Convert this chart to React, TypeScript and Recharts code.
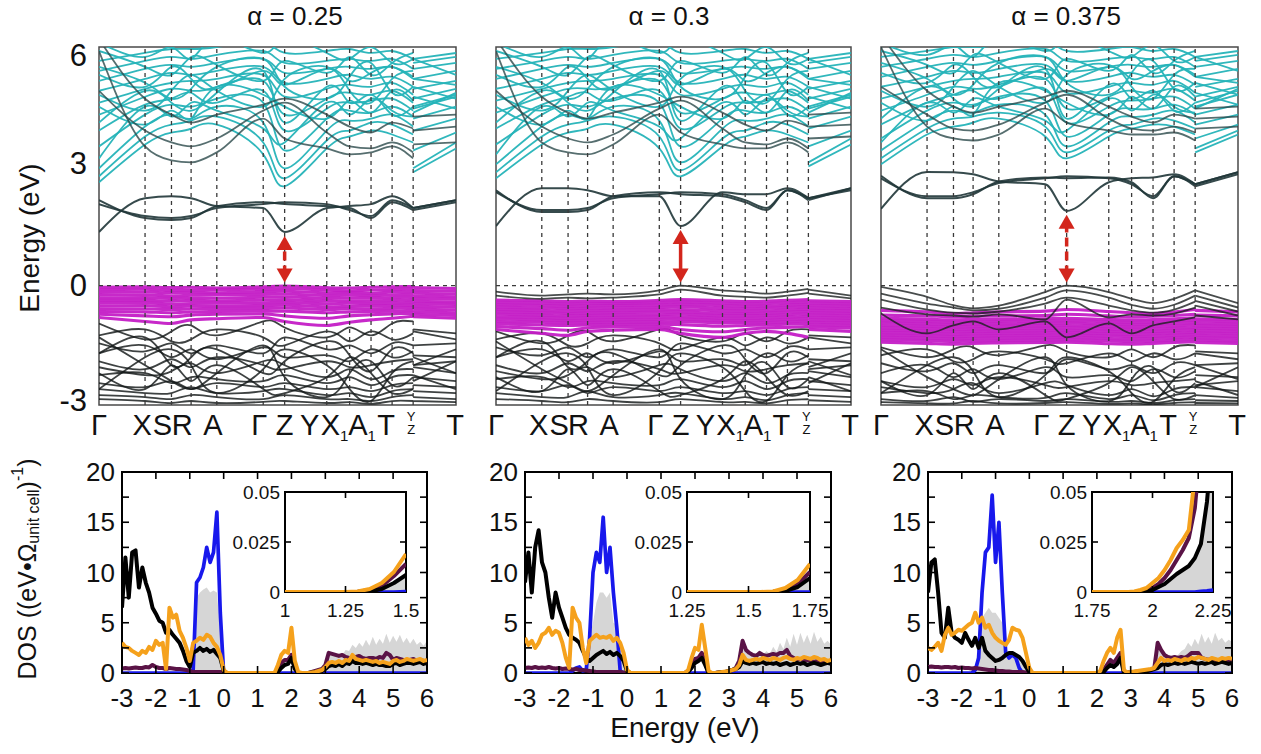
import React from "react";
import {
  LineChart,
  ComposedChart,
  Line,
  Area,
  XAxis,
  YAxis,
  ReferenceLine,
  ReferenceArea,
  ReferenceDot,
} from "recharts";

const PAGE_W = 1261;
const PAGE_H = 754;
const FONT = '"Liberation Sans", Arial, Helvetica, sans-serif';

// ---------------- band structure: k-path ----------------
// Path positions; the Y|Z break repeats its position so the last segment starts fresh.
const kPath = [0, 0.129, 0.203, 0.258, 0.33, 0.46, 0.52, 0.638, 0.702, 0.762, 0.821, 0.88, 0.88, 1];
const BREAK_AFTER = 11;
const Z_INDEX = 6;
const kTicks = [0, 0.129, 0.203, 0.258, 0.33, 0.46, 0.52, 0.638, 0.702, 0.762, 0.821, 0.88, 1];
const kLabels = ["Γ", "X", "S", "R", "A", "Γ", "Z", "Y", "X1", "A1", "T", "Y/Z", "T"];
const kLabelShift = [0, -3, -9, -9, -4, -4, 0, -17, -15, -9, -6, -2, -1];
const energyTicks = [-3, 0, 3, 6];
const energyTickShift: Record<string, number> = { "6": 8, "3": -3, "0": 0, "-3": -5 };

// Energies (eV) at: Γ X S R A Γ Z Y X1 A1 T Y|Z(end) Y|Z(start) T

// ---- α = 0.25 ----
const cyan025 = [
  [2.6, 3.55, 3.85, 3.95, 4.05, 3.3, 2.5, 3.45, 3.75, 3.9, 3.8, 3.6, 2.85, 3.45],
  [2.75, 3.75, 4.05, 4.15, 4.25, 3.6, 2.7, 3.65, 3.9, 4.1, 4.05, 3.8, 2.95, 3.6],
  [2.95, 4.0, 4.3, 4.2, 4.5, 4.1, 2.95, 3.9, 4.15, 4.2, 4.3, 4.0, 3.4, 3.85],
  [3.5, 4.3, 4.55, 4.5, 4.7, 4.6, 3.4, 4.2, 4.4, 4.35, 4.5, 4.25, 3.9, 4.2],
  [3.9, 4.55, 4.7, 4.85, 4.6, 4.9, 3.9, 4.45, 4.6, 4.65, 4.7, 4.4, 4.2, 4.5],
  [4.3, 4.75, 4.95, 4.9, 5.0, 5.15, 4.3, 4.7, 4.85, 4.8, 4.9, 4.6, 4.45, 4.75],
  [4.6, 4.95, 5.1, 5.15, 5.2, 5.3, 4.75, 4.95, 5.05, 5.0, 5.1, 4.8, 4.7, 4.95],
  [4.9, 5.2, 5.35, 5.3, 5.4, 5.5, 5.1, 5.2, 5.3, 5.2, 5.25, 5.0, 4.95, 5.15],
  [5.15, 5.45, 5.55, 5.5, 5.6, 5.7, 5.35, 5.45, 5.5, 5.45, 5.5, 5.2, 5.2, 5.4],
  [5.4, 5.65, 5.75, 5.7, 5.8, 5.9, 5.6, 5.65, 5.7, 5.65, 5.7, 5.45, 5.45, 5.6],
  [5.65, 5.85, 5.95, 5.95, 6.0, 6.1, 5.85, 5.9, 5.95, 5.85, 5.9, 5.7, 5.7, 5.85],
  [4.8, 4.4, 4.9, 5.3, 4.9, 4.5, 5.2, 5.5, 4.9, 4.6, 5.2, 5.4, 5.0, 4.7],
  [5.5, 5.1, 4.7, 4.95, 5.5, 5.7, 5.0, 4.7, 5.25, 5.6, 4.85, 5.0, 5.7, 5.3],
  [3.2, 4.5, 4.25, 4.6, 4.4, 3.95, 3.6, 4.6, 4.3, 4.7, 4.4, 4.25, 4.5, 4.8],
  [4.5, 4.05, 4.4, 4.2, 5.0, 4.8, 4.5, 4.2, 4.65, 4.35, 4.9, 4.65, 4.75, 4.45],
  [5.3, 5.0, 5.5, 5.2, 4.95, 5.4, 5.05, 5.45, 5.15, 5.35, 5.5, 5.25, 5.2, 5.05],
  [5.9, 5.5, 5.3, 5.75, 5.55, 5.15, 5.65, 5.35, 5.75, 5.3, 5.6, 5.85, 5.6, 5.75],
  [6.1, 5.75, 6.0, 5.7, 6.2, 5.85, 6.2, 5.85, 5.7, 6.0, 5.6, 5.7, 6.1, 6.2],
  [4.1, 4.9, 4.6, 4.4, 4.85, 5.4, 4.1, 5.0, 4.6, 4.8, 4.3, 4.5, 4.35, 4.85],
];
const mid025 = [
  [5.9, 3.5, 3.15, 3.1, 3.35, 4.2, 3.7, 3.45, 3.3, 3.35, 3.5, 3.2, 3.55, 3.6],
  [4.9, 3.9, 3.6, 3.5, 3.7, 4.4, 4.6, 3.85, 3.5, 3.45, 3.6, 3.35, 3.9, 4.0],
  [6.2, 4.7, 4.3, 4.1, 4.3, 4.55, 4.7, 4.3, 4.0, 3.85, 4.1, 3.95, 4.25, 4.3],
];
const gap025 = [
  [1.35, 2.2, 2.25, 2.2, 2.0, 1.95, 1.35, 1.95, 2.0, 2.05, 2.25, 1.95, 1.95, 2.15],
  [2.15, 1.7, 1.65, 1.7, 2.0, 2.1, 2.05, 2.0, 1.95, 1.7, 2.1, 1.9, 1.9, 2.1],
  [2.05, 1.75, 1.7, 1.75, 1.95, 2.05, 2.1, 2.05, 1.9, 1.75, 2.15, 1.95, 1.95, 2.15],
];
const magenta025 = [
  [-0.04, -0.03, -0.05, -0.04, -0.06, -0.03, -0.01, -0.05, -0.06, -0.04, -0.03, -0.02, -0.05, -0.07],
  [-0.1, -0.09, -0.12, -0.11, -0.1, -0.09, -0.07, -0.11, -0.13, -0.11, -0.1, -0.08, -0.12, -0.14],
  [-0.17, -0.16, -0.18, -0.17, -0.18, -0.15, -0.14, -0.18, -0.17, -0.19, -0.16, -0.15, -0.19, -0.21],
  [-0.24, -0.23, -0.26, -0.24, -0.23, -0.22, -0.21, -0.25, -0.24, -0.25, -0.23, -0.22, -0.26, -0.28],
  [-0.31, -0.3, -0.32, -0.31, -0.31, -0.29, -0.28, -0.32, -0.31, -0.31, -0.3, -0.29, -0.32, -0.34],
  [-0.37, -0.37, -0.39, -0.37, -0.38, -0.36, -0.35, -0.39, -0.38, -0.38, -0.37, -0.35, -0.39, -0.41],
  [-0.44, -0.43, -0.46, -0.45, -0.44, -0.43, -0.42, -0.46, -0.44, -0.45, -0.44, -0.42, -0.45, -0.47],
  [-0.51, -0.5, -0.53, -0.51, -0.51, -0.5, -0.49, -0.53, -0.52, -0.51, -0.5, -0.49, -0.52, -0.54],
  [-0.58, -0.58, -0.6, -0.58, -0.57, -0.57, -0.56, -0.6, -0.58, -0.58, -0.57, -0.55, -0.59, -0.61],
  [-0.65, -0.66, -0.68, -0.66, -0.65, -0.64, -0.64, -0.68, -0.66, -0.65, -0.64, -0.62, -0.66, -0.68],
  [-0.72, -0.76, -0.78, -0.74, -0.72, -0.71, -0.76, -0.82, -0.76, -0.73, -0.71, -0.69, -0.72, -0.75],
  [-0.8, -0.9, -0.95, -0.86, -0.83, -0.8, -0.9, -1.0, -0.92, -0.86, -0.82, -0.77, -0.78, -0.82],
];
const deep025 = [
  [-0.95, -1.35, -1.15, -1.0, -1.25, -0.9, -1.05, -1.3, -1.05, -1.25, -0.95, -0.9, -1.1, -1.2],
  [-1.25, -1.1, -1.4, -1.35, -1.1, -1.3, -1.5, -1.15, -1.4, -1.15, -1.35, -1.2, -1.15, -1.35],
  [-1.45, -1.65, -1.45, -1.7, -1.5, -1.7, -1.3, -1.6, -1.5, -1.7, -1.45, -1.5, -1.5, -1.45],
  [-1.7, -1.5, -1.8, -1.6, -1.85, -1.55, -1.8, -1.75, -1.9, -1.6, -1.8, -1.65, -1.75, -1.8],
  [-1.9, -2.1, -1.85, -2.05, -1.8, -2.0, -2.1, -1.9, -2.05, -2.0, -1.9, -1.85, -2.0, -1.9],
  [-2.05, -2.25, -2.15, -1.95, -2.2, -1.9, -2.0, -2.3, -2.1, -2.35, -2.15, -2.1, -2.05, -2.2],
  [-2.25, -2.2, -2.45, -2.3, -2.35, -2.4, -2.25, -2.45, -2.3, -2.5, -2.3, -2.25, -2.3, -2.4],
  [-2.45, -2.55, -2.4, -2.6, -2.45, -2.55, -2.45, -2.6, -2.55, -2.65, -2.5, -2.45, -2.5, -2.55],
  [-2.6, -2.7, -2.7, -2.55, -2.7, -2.65, -2.6, -2.75, -2.7, -2.8, -2.65, -2.6, -2.65, -2.7],
  [-2.75, -2.8, -2.85, -2.75, -2.8, -2.85, -2.75, -2.85, -2.85, -2.9, -2.8, -2.75, -2.8, -2.85],
  [-2.85, -2.9, -2.95, -2.9, -2.95, -2.92, -2.9, -2.95, -2.93, -2.97, -2.9, -2.9, -2.9, -2.93],
  [-1.3, -2.0, -2.4, -2.6, -2.2, -1.5, -2.3, -2.8, -2.2, -1.9, -2.5, -2.3, -1.8, -2.2],
  [-2.6, -1.8, -1.6, -2.0, -2.7, -2.1, -1.6, -2.0, -2.6, -2.9, -2.2, -1.9, -2.4, -1.9],
  [-2.2, -2.6, -2.0, -2.4, -2.0, -2.6, -2.7, -2.3, -1.8, -2.2, -2.7, -2.6, -2.25, -2.6],
  [-1.7, -1.3, -2.0, -1.8, -1.6, -2.2, -1.9, -1.4, -1.75, -2.15, -1.6, -1.7, -2.0, -1.6],
];

// ---- α = 0.3 ----
const cyan030 = [
  [2.7, 3.55, 3.85, 3.95, 4.05, 3.45, 2.75, 3.5, 3.75, 3.9, 3.8, 3.6, 3.0, 3.55],
  [2.85, 3.75, 4.05, 4.15, 4.25, 3.75, 2.9, 3.7, 3.9, 4.1, 4.05, 3.8, 3.1, 3.7],
  [3.05, 4.0, 4.3, 4.2, 4.5, 4.15, 3.1, 3.95, 4.15, 4.2, 4.3, 4.0, 3.5, 3.9],
  [3.55, 4.3, 4.55, 4.5, 4.7, 4.6, 3.5, 4.2, 4.4, 4.35, 4.5, 4.25, 3.95, 4.25],
  [3.95, 4.55, 4.75, 4.85, 4.65, 4.9, 3.95, 4.45, 4.6, 4.65, 4.7, 4.4, 4.2, 4.5],
  [4.35, 4.75, 4.95, 4.95, 5.0, 5.15, 4.35, 4.7, 4.85, 4.8, 4.9, 4.6, 4.45, 4.75],
  [4.65, 4.95, 5.1, 5.15, 5.2, 5.3, 4.8, 4.95, 5.05, 5.0, 5.1, 4.8, 4.7, 4.95],
  [4.95, 5.2, 5.35, 5.3, 5.4, 5.5, 5.1, 5.2, 5.3, 5.2, 5.25, 5.0, 4.95, 5.15],
  [5.2, 5.45, 5.55, 5.5, 5.6, 5.7, 5.35, 5.45, 5.5, 5.45, 5.5, 5.2, 5.2, 5.4],
  [5.45, 5.65, 5.75, 5.7, 5.8, 5.9, 5.6, 5.65, 5.7, 5.65, 5.7, 5.45, 5.45, 5.6],
  [5.7, 5.85, 5.95, 5.95, 6.0, 6.1, 5.85, 5.9, 5.95, 5.85, 5.9, 5.7, 5.7, 5.85],
  [4.8, 4.4, 4.9, 5.3, 4.9, 4.5, 5.2, 5.5, 4.9, 4.6, 5.2, 5.4, 5.0, 4.7],
  [5.5, 5.1, 4.7, 4.95, 5.5, 5.7, 5.0, 4.7, 5.25, 5.6, 4.85, 5.0, 5.7, 5.3],
  [3.3, 4.5, 4.25, 4.6, 4.4, 4.0, 3.7, 4.6, 4.3, 4.7, 4.4, 4.25, 4.5, 4.8],
  [4.5, 4.05, 4.4, 4.2, 5.0, 4.8, 4.5, 4.2, 4.65, 4.35, 4.9, 4.65, 4.75, 4.45],
  [5.3, 5.0, 5.5, 5.2, 4.95, 5.4, 5.05, 5.45, 5.15, 5.35, 5.5, 5.25, 5.2, 5.05],
  [5.9, 5.5, 5.3, 5.75, 5.55, 5.15, 5.65, 5.35, 5.75, 5.3, 5.6, 5.85, 5.6, 5.75],
  [6.1, 5.75, 6.0, 5.7, 6.2, 5.85, 6.2, 5.85, 5.7, 6.0, 5.6, 5.7, 6.1, 6.2],
  [4.1, 4.9, 4.6, 4.4, 4.85, 5.4, 4.15, 5.0, 4.6, 4.8, 4.3, 4.5, 4.35, 4.85],
];
const mid030 = [
  [5.9, 3.6, 3.35, 3.3, 3.55, 4.3, 3.85, 3.55, 3.45, 3.45, 3.6, 3.35, 3.7, 3.75],
  [4.9, 4.0, 3.7, 3.6, 3.8, 4.45, 4.65, 3.95, 3.6, 3.55, 3.7, 3.45, 4.0, 4.05],
  [6.2, 4.75, 4.35, 4.2, 4.35, 4.6, 4.75, 4.35, 4.05, 3.9, 4.15, 4.0, 4.3, 4.35],
];
const gap030 = [
  [1.5, 2.45, 2.45, 2.4, 2.25, 2.25, 1.5, 2.35, 2.3, 2.3, 2.45, 2.2, 2.2, 2.45],
  [2.4, 1.85, 1.85, 1.9, 2.25, 2.35, 2.3, 2.25, 2.1, 1.9, 2.4, 2.15, 2.15, 2.45],
  [2.35, 1.9, 1.9, 1.95, 2.2, 2.3, 2.35, 2.3, 2.15, 1.95, 2.4, 2.2, 2.2, 2.4],
];
const upper030 = [
  [-0.15, -0.25, -0.22, -0.2, -0.22, -0.12, 0.0, -0.12, -0.15, -0.2, -0.15, -0.08, -0.1, -0.25],
  [-0.25, -0.33, -0.3, -0.32, -0.3, -0.22, -0.1, -0.25, -0.28, -0.3, -0.25, -0.18, -0.2, -0.32],
];
const magenta030 = [
  [-0.36, -0.38, -0.4, -0.39, -0.4, -0.37, -0.35, -0.38, -0.4, -0.39, -0.37, -0.35, -0.38, -0.4],
  [-0.42, -0.44, -0.46, -0.45, -0.45, -0.43, -0.41, -0.44, -0.46, -0.45, -0.43, -0.41, -0.44, -0.46],
  [-0.48, -0.5, -0.52, -0.51, -0.5, -0.49, -0.47, -0.5, -0.52, -0.51, -0.49, -0.47, -0.5, -0.52],
  [-0.54, -0.56, -0.58, -0.57, -0.56, -0.55, -0.53, -0.57, -0.58, -0.57, -0.55, -0.53, -0.56, -0.58],
  [-0.6, -0.62, -0.64, -0.63, -0.62, -0.61, -0.6, -0.63, -0.64, -0.63, -0.61, -0.59, -0.62, -0.64],
  [-0.66, -0.68, -0.7, -0.69, -0.68, -0.67, -0.66, -0.7, -0.7, -0.69, -0.67, -0.65, -0.68, -0.7],
  [-0.72, -0.74, -0.76, -0.75, -0.74, -0.73, -0.72, -0.76, -0.76, -0.75, -0.73, -0.71, -0.74, -0.76],
  [-0.78, -0.8, -0.82, -0.81, -0.8, -0.79, -0.78, -0.82, -0.82, -0.81, -0.79, -0.77, -0.8, -0.82],
  [-0.84, -0.86, -0.88, -0.87, -0.86, -0.85, -0.84, -0.88, -0.88, -0.87, -0.85, -0.83, -0.86, -0.88],
  [-0.9, -0.92, -0.94, -0.93, -0.92, -0.91, -0.9, -0.94, -0.94, -0.93, -0.91, -0.89, -0.92, -0.94],
  [-0.96, -0.99, -1.0, -0.99, -0.98, -0.97, -0.98, -1.02, -1.0, -0.99, -0.97, -0.95, -0.98, -1.0],
  [-1.03, -1.08, -1.12, -1.06, -1.04, -1.03, -1.1, -1.16, -1.1, -1.06, -1.05, -1.02, -1.04, -1.06],
  [-1.1, -1.2, -1.25, -1.15, -1.12, -1.1, -1.2, -1.3, -1.2, -1.15, -1.2, -1.3, -1.1, -1.15],
];
const deep030 = [
  [-1.15, -1.45, -1.25, -1.15, -1.4, -1.1, -1.25, -1.4, -1.2, -1.4, -1.15, -1.1, -1.25, -1.3],
  [-1.35, -1.2, -1.5, -1.45, -1.25, -1.45, -1.6, -1.3, -1.5, -1.3, -1.45, -1.3, -1.3, -1.45],
  [-1.55, -1.75, -1.55, -1.8, -1.6, -1.8, -1.45, -1.7, -1.6, -1.8, -1.55, -1.6, -1.6, -1.55],
  [-1.8, -1.6, -1.9, -1.7, -1.95, -1.65, -1.9, -1.85, -2.0, -1.7, -1.9, -1.75, -1.85, -1.9],
  [-2.0, -2.2, -1.95, -2.15, -1.9, -2.1, -2.2, -2.0, -2.15, -2.1, -2.0, -1.95, -2.1, -2.0],
  [-2.15, -2.35, -2.25, -2.05, -2.3, -2.0, -2.1, -2.4, -2.2, -2.45, -2.25, -2.2, -2.15, -2.3],
  [-2.35, -2.3, -2.55, -2.4, -2.45, -2.5, -2.35, -2.55, -2.4, -2.6, -2.4, -2.35, -2.4, -2.5],
  [-2.55, -2.65, -2.5, -2.7, -2.55, -2.65, -2.55, -2.7, -2.65, -2.75, -2.6, -2.55, -2.6, -2.65],
  [-2.7, -2.8, -2.8, -2.65, -2.8, -2.75, -2.7, -2.85, -2.8, -2.88, -2.75, -2.7, -2.75, -2.8],
  [-2.85, -2.9, -2.93, -2.85, -2.9, -2.93, -2.85, -2.93, -2.92, -2.96, -2.88, -2.85, -2.88, -2.92],
  [-1.4, -2.1, -2.45, -2.65, -2.25, -1.6, -2.35, -2.85, -2.25, -1.95, -2.55, -2.35, -1.9, -2.25],
  [-2.65, -1.9, -1.7, -2.05, -2.75, -2.15, -1.7, -2.05, -2.65, -2.9, -2.25, -1.95, -2.45, -1.95],
  [-2.3, -2.65, -2.1, -2.5, -2.1, -2.65, -2.75, -2.35, -1.9, -2.3, -2.75, -2.65, -2.3, -2.65],
  [-1.8, -1.4, -2.05, -1.9, -1.7, -2.25, -2.0, -1.5, -1.85, -2.2, -1.7, -1.8, -2.05, -1.7],
];

// ---- α = 0.375 ----
const cyan0375 = [
  [3.05, 3.8, 4.0, 4.1, 4.2, 3.75, 3.2, 3.75, 3.95, 4.05, 4.0, 3.8, 3.35, 3.8],
  [3.2, 3.95, 4.2, 4.25, 4.35, 4.0, 3.35, 3.9, 4.05, 4.2, 4.15, 3.95, 3.45, 3.9],
  [3.4, 4.15, 4.4, 4.35, 4.55, 4.3, 3.5, 4.1, 4.25, 4.3, 4.4, 4.1, 3.7, 4.05],
  [3.7, 4.4, 4.6, 4.55, 4.75, 4.65, 3.75, 4.3, 4.45, 4.45, 4.55, 4.3, 4.05, 4.3],
  [4.05, 4.6, 4.8, 4.9, 4.7, 4.95, 4.1, 4.5, 4.65, 4.7, 4.75, 4.45, 4.3, 4.55],
  [4.4, 4.8, 5.0, 4.95, 5.05, 5.2, 4.45, 4.75, 4.9, 4.85, 4.95, 4.65, 4.5, 4.8],
  [4.7, 5.0, 5.15, 5.2, 5.25, 5.35, 4.85, 5.0, 5.1, 5.05, 5.15, 4.85, 4.75, 5.0],
  [5.0, 5.25, 5.4, 5.35, 5.45, 5.55, 5.15, 5.25, 5.35, 5.25, 5.3, 5.05, 5.0, 5.2],
  [5.25, 5.5, 5.6, 5.55, 5.65, 5.75, 5.4, 5.5, 5.55, 5.5, 5.55, 5.25, 5.25, 5.45],
  [5.5, 5.7, 5.8, 5.75, 5.85, 5.95, 5.65, 5.7, 5.75, 5.7, 5.75, 5.5, 5.5, 5.65],
  [5.75, 5.9, 6.0, 6.0, 6.05, 6.15, 5.9, 5.95, 6.0, 5.9, 5.95, 5.75, 5.75, 5.9],
  [4.9, 4.5, 5.0, 5.4, 5.0, 4.6, 5.3, 5.55, 5.0, 4.7, 5.3, 5.45, 5.1, 4.8],
  [5.6, 5.2, 4.8, 5.05, 5.6, 5.75, 5.1, 4.8, 5.35, 5.65, 4.95, 5.1, 5.75, 5.4],
  [3.6, 4.6, 4.35, 4.7, 4.5, 4.15, 3.9, 4.7, 4.4, 4.8, 4.5, 4.35, 4.6, 4.9],
  [4.6, 4.15, 4.5, 4.3, 5.1, 4.9, 4.6, 4.3, 4.75, 4.45, 5.0, 4.75, 4.85, 4.55],
  [5.35, 5.1, 5.55, 5.25, 5.0, 5.45, 5.15, 5.5, 5.2, 5.4, 5.55, 5.3, 5.25, 5.1],
  [5.9, 5.55, 5.35, 5.8, 5.6, 5.2, 5.7, 5.4, 5.8, 5.35, 5.65, 5.9, 5.65, 5.8],
  [6.1, 5.8, 6.05, 5.75, 6.2, 5.9, 6.2, 5.9, 5.75, 6.05, 5.65, 5.75, 6.1, 6.2],
  [4.2, 5.0, 4.7, 4.5, 4.95, 5.45, 4.2, 5.05, 4.7, 4.9, 4.4, 4.6, 4.45, 4.95],
];
const mid0375 = [
  [6.0, 4.0, 3.7, 3.65, 3.8, 4.45, 4.1, 3.9, 3.8, 3.8, 3.85, 3.65, 3.95, 4.0],
  [5.0, 4.3, 3.95, 3.9, 4.05, 4.6, 4.8, 4.2, 3.95, 3.9, 4.0, 3.85, 4.2, 4.25],
  [6.3, 4.9, 4.5, 4.35, 4.5, 4.75, 4.9, 4.5, 4.25, 4.1, 4.3, 4.2, 4.45, 4.5],
];
const gap0375 = [
  [1.93, 2.86, 2.85, 2.8, 2.62, 2.55, 1.88, 2.6, 2.7, 2.72, 2.8, 2.55, 2.55, 2.85],
  [2.76, 2.2, 2.2, 2.3, 2.62, 2.72, 2.7, 2.72, 2.6, 2.2, 2.75, 2.5, 2.5, 2.8],
  [2.7, 2.25, 2.25, 2.35, 2.58, 2.7, 2.75, 2.7, 2.55, 2.25, 2.75, 2.55, 2.55, 2.85],
];
const upper0375 = [
  [-0.03, -0.28, -0.49, -0.57, -0.5, -0.16, 0.0, -0.16, -0.33, -0.44, -0.33, -0.12, -0.12, -0.44],
  [-0.2, -0.45, -0.55, -0.62, -0.58, -0.3, -0.12, -0.3, -0.48, -0.58, -0.48, -0.25, -0.25, -0.55],
  [-0.35, -0.6, -0.68, -0.7, -0.65, -0.45, -0.3, -0.5, -0.62, -0.68, -0.6, -0.4, -0.38, -0.65],
  [-0.55, -0.72, -0.75, -0.78, -0.72, -0.85, -0.35, -0.8, -0.72, -0.75, -0.7, -0.55, -0.5, -0.75],
  [-0.7, -1.2, -1.0, -0.9, -1.1, -0.9, -1.3, -0.95, -1.2, -1.0, -0.9, -0.8, -0.75, -0.85],
];
const magenta0375 = [
  [-0.62, -0.66, -0.7, -0.68, -0.66, -0.64, -0.6, -0.65, -0.68, -0.7, -0.66, -0.6, -0.62, -0.66],
  [-0.74, -0.76, -0.78, -0.77, -0.76, -0.75, -0.72, -0.76, -0.78, -0.77, -0.75, -0.72, -0.74, -0.76],
  [-0.82, -0.84, -0.86, -0.85, -0.84, -0.83, -0.82, -0.85, -0.86, -0.85, -0.83, -0.81, -0.83, -0.85],
  [-0.88, -0.9, -0.92, -0.91, -0.9, -0.89, -0.88, -0.91, -0.92, -0.91, -0.89, -0.87, -0.89, -0.91],
  [-0.94, -0.96, -0.98, -0.97, -0.96, -0.95, -0.94, -0.97, -0.98, -0.97, -0.95, -0.93, -0.95, -0.97],
  [-1.0, -1.02, -1.04, -1.03, -1.02, -1.01, -1.0, -1.03, -1.04, -1.03, -1.01, -0.99, -1.01, -1.03],
  [-1.06, -1.08, -1.1, -1.09, -1.08, -1.07, -1.06, -1.09, -1.1, -1.09, -1.07, -1.05, -1.07, -1.09],
  [-1.12, -1.14, -1.16, -1.15, -1.14, -1.13, -1.12, -1.15, -1.16, -1.15, -1.13, -1.11, -1.13, -1.15],
  [-1.18, -1.2, -1.22, -1.21, -1.2, -1.19, -1.18, -1.21, -1.22, -1.21, -1.19, -1.17, -1.19, -1.21],
  [-1.24, -1.26, -1.28, -1.27, -1.26, -1.25, -1.24, -1.27, -1.28, -1.27, -1.25, -1.23, -1.25, -1.27],
  [-1.3, -1.32, -1.34, -1.33, -1.32, -1.31, -1.3, -1.33, -1.34, -1.33, -1.31, -1.29, -1.31, -1.33],
  [-1.36, -1.38, -1.4, -1.39, -1.38, -1.37, -1.36, -1.39, -1.4, -1.39, -1.37, -1.35, -1.37, -1.39],
  [-1.42, -1.45, -1.47, -1.45, -1.44, -1.43, -1.42, -1.46, -1.47, -1.45, -1.43, -1.41, -1.43, -1.45],
];
const deep0375 = [
  [-1.55, -1.8, -1.6, -1.55, -1.75, -1.5, -1.65, -1.8, -1.6, -1.8, -1.55, -1.5, -1.65, -1.7],
  [-1.75, -1.6, -1.9, -1.85, -1.65, -1.85, -1.95, -1.7, -1.9, -1.7, -1.85, -1.7, -1.7, -1.85],
  [-1.95, -2.15, -1.95, -2.2, -2.0, -2.2, -1.85, -2.1, -2.0, -2.2, -1.95, -2.0, -2.0, -1.95],
  [-2.2, -2.0, -2.3, -2.1, -2.35, -2.05, -2.3, -2.25, -2.4, -2.1, -2.3, -2.15, -2.25, -2.3],
  [-2.4, -2.55, -2.35, -2.5, -2.3, -2.5, -2.55, -2.4, -2.5, -2.45, -2.4, -2.35, -2.5, -2.4],
  [-2.55, -2.7, -2.6, -2.45, -2.7, -2.45, -2.5, -2.75, -2.6, -2.78, -2.6, -2.55, -2.55, -2.65],
  [-2.7, -2.65, -2.85, -2.75, -2.8, -2.82, -2.7, -2.85, -2.75, -2.88, -2.75, -2.7, -2.75, -2.82],
  [-2.85, -2.9, -2.8, -2.92, -2.85, -2.9, -2.85, -2.92, -2.9, -2.95, -2.88, -2.85, -2.88, -2.9],
  [-2.93, -2.96, -2.96, -2.9, -2.96, -2.95, -2.93, -2.97, -2.96, -2.98, -2.95, -2.93, -2.95, -2.96],
  [-1.6, -2.3, -2.6, -2.75, -2.35, -1.8, -2.5, -2.9, -2.35, -2.05, -2.65, -2.45, -2.0, -2.35],
  [-2.7, -2.0, -1.8, -2.15, -2.8, -2.25, -1.8, -2.15, -2.7, -2.92, -2.35, -2.05, -2.55, -2.05],
  [-2.4, -2.75, -2.2, -2.6, -2.2, -2.75, -2.85, -2.45, -2.05, -2.4, -2.85, -2.75, -2.4, -2.75],
];

// ---------------- density of states ----------------
const dosEnergy = [
  -3, -2.9, -2.8, -2.7, -2.6, -2.5, -2.4, -2.3, -2.2, -2.1, -2, -1.9, -1.8, -1.7, -1.6, -1.5, -1.4, -1.3, -1.2, -1.1, -1, -0.9, -0.8, -0.7, -0.6, -0.5, -0.4, -0.3, -0.2, -0.1, 0, 0.1,
  0.4, 0.8, 1.2, 1.5,
  1.6, 1.7, 1.8, 1.9, 2, 2.1, 2.2, 2.3, 2.4, 2.5, 2.6, 2.7, 2.8,
  2.9, 3, 3.1, 3.2, 3.3, 3.4, 3.5, 3.6, 3.7, 3.8, 3.9, 4, 4.1, 4.2, 4.3, 4.4, 4.5, 4.6, 4.7, 4.8, 4.9, 5, 5.1, 5.2, 5.3, 5.4, 5.5, 5.6, 5.7, 5.8, 5.9, 6,
];
const dosTicksX = [-3, -2, -1, 0, 1, 2, 3, 4, 5, 6];
const dosTicksY = [0, 2.5, 5, 7.5, 10, 12.5, 15, 17.5, 20];

// α = 0.25
const dosBlack025 = [
  6.5, 11.5, 7.5, 12, 12.2, 8.5, 10.5, 9, 8, 6.5, 5.9, 5.2, 5, 4, 4.3, 3.8, 3.4, 3, 2.2, 1.2, 0.6, 2, 2.2, 2.5, 2.2, 2.4, 2.1, 2.3, 1.9, 1.5, 0.2, 0,
  0, 0, 0, 0,
  0.1, 0.5, 0.8, 0.9, 1.5, 0.4, 0, 0, 0, 0, 0.05, 0.1, 0.15,
  0.2, 0.4, 0.7, 0.8, 0.7, 0.9, 0.7, 1, 0.9, 1.2, 1, 1, 0.9, 1, 0.9, 0.8, 0.9, 0.8, 0.8, 0.7, 0.7, 0.9, 1, 0.8, 0.9, 1, 1, 0.9, 1, 1.1, 0.9, 1,
];
const dosOrange025 = [
  3, 2.6, 2.5, 2.2, 2, 1.8, 2.2, 2, 2.6, 2.3, 3.2, 2.8, 3, 0.4, 6.5, 5.5, 5.8, 4.2, 3.5, 2.5, 1.2, 3, 3.2, 3.5, 3.3, 3.8, 3.6, 3, 2.6, 1.8, 0.3, 0,
  0, 0, 0, 0,
  0.8, 1.8, 2.2, 2, 4.5, 1.2, 0.1, 0, 0, 0, 0.05, 0.1, 0.2,
  0.3, 0.6, 1, 1.1, 1, 1.2, 1, 1.3, 1.2, 1.8, 1.4, 1.3, 1.2, 1.3, 1.2, 1.1, 1.2, 1, 1.1, 1, 0.9, 1.2, 1.3, 1.1, 1.2, 1.4, 1.3, 1.2, 1.3, 1.4, 1.2, 1.3,
];
const dosMaroon025 = [
  0.45, 0.5, 0.45, 0.5, 0.55, 0.5, 0.5, 0.6, 0.55, 0.8, 0.6, 0.5, 0.5, 0.4, 0.5, 0.45, 0.4, 0.4, 0.35, 0.3, 0.2, 0.1, 0.1, 0.1, 0.1, 0.1, 0.1, 0.1, 0.1, 0.1, 0, 0,
  0, 0, 0, 0,
  0.2, 1, 1.3, 1.3, 1.8, 0.5, 0, 0, 0, 0, 0.1, 0.2, 0.3,
  0.4, 0.8, 2, 1.9, 1.8, 1.7, 1.8, 1.6, 1.5, 1.5, 1.6, 1.7, 1.5, 1.4, 1.5, 1.5, 1.4, 1.6, 1.5, 2, 1.8, 1.3, 1.5, 1.4, 1.3, 1.2, 1.3, 1.4, 1.2, 1.3, 1.2, 1.2,
];
const dosBlue025 = [
  0, 0, 0, 0, 0, 0, 0, 0, 0, 0, 0, 0, 0, 0, 0, 0, 0, 0, 0, 0, 0, 0.3, 9, 9.5, 10.5, 12.5, 11, 12, 16, 6, 0, 0,
  0, 0, 0, 0,
  0, 0, 0, 0, 0, 0, 0, 0, 0, 0, 0, 0, 0,
  0, 0, 0, 0, 0, 0, 0, 0, 0, 0, 0, 0, 0, 0, 0, 0, 0, 0, 0, 0, 0, 0, 0, 0, 0, 0, 0, 0, 0, 0, 0, 0,
];
const dosGray025 = [
  0, 0, 0, 0, 0, 0, 0, 0, 0, 0, 0, 0, 0, 0, 0, 0, 0, 0, 0, 0, 0, 1.5, 7.5, 8, 8.3, 8.5, 8, 8.2, 8, 4, 0.3, 0,
  0, 0, 0, 0,
  0, 0, 0, 0, 0, 0, 0, 0, 0, 0, 0.05, 0.1, 0.2,
  0.4, 0.9, 1.8, 1.8, 1.7, 1.9, 1.8, 2.3, 2.2, 2.8, 2.5, 3, 2.6, 3.3, 2.7, 3.6, 2.8, 3.4, 2.9, 3.9, 3, 3.7, 3.1, 3.8, 3, 3.5, 2.9, 3.4, 2.8, 3.1, 2.7, 3.2,
];

// α = 0.3
const dosBlack030 = [
  9, 12, 8, 12.5, 14.2, 11, 10, 7.5, 5.5, 8, 6.5, 5.5, 4.5, 3.8, 3.5, 3.3, 3, 2.2, 1.5, 1.2, 1.5, 1.8, 2, 2.2, 1.9, 2.1, 1.8, 2, 1.7, 1.2, 0.2, 0,
  0, 0, 0, 0,
  0, 0, 0.1, 0.5, 1, 1.2, 1.5, 0.8, 0, 0, 0, 0.05, 0.1,
  0.1, 0.2, 0.3, 0.4, 0.6, 1.2, 1, 0.9, 1, 0.9, 1, 1.1, 0.9, 1, 0.9, 1, 0.8, 0.9, 1, 0.8, 0.9, 1, 0.9, 1, 0.8, 0.9, 1, 0.9, 0.8, 0.9, 1, 0.9,
];
const dosOrange030 = [
  3.5, 2.8, 3.2, 2.5, 3, 3.8, 4, 4.5, 3.8, 4.2, 4, 3, 1.5, 0.5, 6.5, 5.5, 5, 2.5, 1, 3.2, 3.5, 3.8, 3.5, 3.6, 3.5, 3.7, 3.2, 3.5, 3, 2, 0.3, 0,
  0, 0, 0, 0,
  0, 0, 0.3, 1.5, 2.5, 2.3, 4.8, 2.5, 0.2, 0, 0, 0.05, 0.1,
  0.15, 0.2, 0.3, 0.4, 0.8, 1.8, 1.3, 1.2, 1.3, 1.4, 1.3, 1.5, 1.4, 1.3, 1.5, 1.4, 1.3, 1.5, 1.6, 1.4, 1.3, 1.5, 1.4, 1.6, 1.5, 1.4, 1.6, 1.5, 1.3, 1.4, 1.2, 1.3,
];
const dosMaroon030 = [
  0.5, 0.55, 0.5, 0.6, 0.5, 0.55, 0.5, 0.6, 0.5, 0.45, 0.5, 0.4, 0.45, 0.4, 0.35, 0.4, 0.3, 0.3, 0.25, 0.2, 0.15, 0.1, 0.1, 0.1, 0.1, 0.1, 0.1, 0.1, 0.1, 0.05, 0, 0,
  0, 0, 0, 0,
  0, 0, 0.2, 0.8, 1.4, 1.5, 2, 1, 0, 0, 0, 0.05, 0.1,
  0.1, 0.2, 0.3, 0.5, 1.2, 3.2, 2.3, 2, 1.8, 1.7, 2, 1.8, 1.7, 1.8, 1.9, 1.8, 2, 2, 2.3, 1.7, 1.5, 1.3, 1.4, 1.2, 1.3, 1.2, 1.1, 1.2, 1, 1.1, 1, 1,
];
const dosBlue030 = [
  0, 0, 0, 0, 0, 0, 0, 0, 0, 0, 0, 0, 0, 0, 0.2, 0.5, 0.6, 0.2, 0.3, 3.5, 10, 12, 11, 15.5, 10, 12.5, 8, 4.5, 0.2, 0, 0, 0,
  0, 0, 0, 0,
  0, 0, 0, 0, 0, 0, 0, 0, 0, 0, 0, 0, 0,
  0, 0, 0, 0, 0, 0, 0, 0, 0, 0, 0, 0, 0, 0, 0, 0, 0, 0, 0, 0, 0, 0, 0, 0, 0, 0, 0, 0, 0, 0, 0, 0,
];
const dosGray030 = [
  0, 0, 0, 0, 0, 0, 0, 0, 0, 0, 0, 0, 0, 0, 0, 0, 0, 0, 0, 3.5, 5, 7, 8, 8, 7.5, 8, 5, 4.8, 3.2, 2.2, 0.3, 0,
  0, 0, 0, 0,
  0, 0, 0, 0, 0, 0, 0, 0, 0, 0, 0, 0.05, 0.1,
  0.1, 0.2, 0.3, 0.4, 1, 2.8, 2.2, 1.9, 1.7, 1.6, 1.9, 1.8, 2.2, 1.9, 2.6, 2.1, 3, 2.4, 3.5, 2.6, 3.9, 2.8, 4, 3, 3.8, 2.9, 4.1, 3.1, 3.6, 2.9, 3.2, 2.8,
];

// α = 0.375
const dosBlack0375 = [
  8, 11, 11.3, 8, 4, 3.5, 6.5, 4, 3.5, 3.3, 3, 4, 3.3, 2.7, 3.5, 2.5, 3.5, 2.2, 1.8, 1.5, 1.2, 1.3, 1.5, 1.8, 2, 2, 1.8, 1.6, 1.2, 0.6, 0.1, 0,
  0, 0, 0, 0,
  0, 0, 0, 0, 0, 0, 0.1, 0.5, 0.8, 0.6, 0.9, 1.5, 0,
  0, 0.05, 0.1, 0.1, 0.15, 0.2, 0.2, 0.3, 0.4, 0.5, 0.8, 0.9, 0.8, 0.9, 1, 0.9, 1, 0.9, 1, 1.1, 1, 0.9, 1, 0.9, 1, 1.1, 0.9, 1, 1.1, 1, 0.9, 1,
];
const dosOrange0375 = [
  2.5, 2.3, 2.6, 3, 2.2, 3.8, 4.5, 3.8, 4, 4.3, 4.2, 4.5, 4.8, 5, 6, 5, 5.5, 4.5, 4.8, 4, 3.5, 3.2, 3, 2.8, 3.3, 4.5, 4.3, 4.2, 3.5, 2, 0.5, 0,
  0, 0, 0, 0,
  0, 0, 0, 0, 0, 0.2, 1.2, 2, 2.5, 2, 3.5, 4.3, 0.3,
  0.05, 0.1, 0.15, 0.2, 0.25, 0.3, 0.35, 0.4, 0.5, 1, 1.5, 1.2, 1.3, 1.2, 1.4, 1.3, 1.2, 1.4, 1.3, 1.5, 1.4, 1.6, 1.5, 1.4, 1.3, 1.5, 1.4, 1.3, 1.5, 1.4, 1.5, 1.4,
];
const dosMaroon0375 = [
  0.6, 0.65, 0.6, 0.6, 0.55, 0.6, 0.6, 0.55, 0.6, 0.5, 0.55, 0.5, 0.5, 0.45, 0.5, 0.45, 0.4, 0.35, 0.3, 0.3, 0.25, 0.2, 0.2, 0.15, 0.15, 0.1, 0.1, 0.1, 0.1, 0.05, 0, 0,
  0, 0, 0, 0,
  0, 0, 0, 0, 0, 0, 0.3, 0.8, 1.3, 1, 1.5, 2, 0.1,
  0.05, 0.1, 0.1, 0.15, 0.2, 0.2, 0.25, 0.3, 0.5, 3, 2.3, 1.8, 1.6, 1.5, 1.6, 1.5, 1.6, 1.5, 1.7, 2, 2, 2, 1.5, 1.4, 1.3, 1.4, 1.3, 1.2, 1.3, 1.2, 1.3, 1.2,
];
const dosBlue0375 = [
  0, 0, 0, 0, 0, 0, 0, 0, 0, 0, 0, 0, 0, 0, 0.3, 1.5, 8, 12, 12.5, 17.7, 11, 15, 8, 2, 1.5, 1.8, 1.5, 0.5, 0, 0, 0, 0,
  0, 0, 0, 0,
  0, 0, 0, 0, 0, 0, 0, 0, 0, 0, 0, 0, 0,
  0, 0, 0, 0, 0, 0, 0, 0, 0, 0, 0, 0, 0, 0, 0, 0, 0, 0, 0, 0, 0, 0, 0, 0, 0, 0, 0, 0, 0, 0, 0, 0,
];
const dosGray0375 = [
  0, 0, 0, 0, 0, 0, 0, 0, 0, 0, 0, 0, 0, 0, 0, 4, 5.5, 6, 6.5, 6, 6, 5.5, 5, 2, 1.6, 1.8, 1.6, 1.5, 1.1, 0.5, 0.1, 0,
  0, 0, 0, 0,
  0, 0, 0, 0, 0, 0, 0, 0, 0, 0, 0, 0, 0,
  0.05, 0.1, 0.15, 0.2, 0.25, 0.3, 0.35, 0.4, 0.5, 2.6, 2.1, 1.7, 1.6, 1.5, 1.6, 1.8, 2.2, 2.4, 3, 2.6, 3.4, 2.8, 3.9, 3, 3.6, 2.9, 4, 3.2, 3.5, 3, 3.3, 3.1,
];

// band-edge close-ups
const inset025Energy = [1, 1.05, 1.1, 1.15, 1.2, 1.25, 1.3, 1.35, 1.4, 1.45, 1.5];
const inset025Ticks = [1, 1.25, 1.5];
const inset025Orange = [0, 0, 0, 0, 0, 0, 0.0003, 0.0015, 0.0045, 0.01, 0.019];
const inset025Maroon = [0, 0, 0, 0, 0, 0, 0.0001, 0.001, 0.003, 0.008, 0.014];
const inset025Black = [0, 0, 0, 0, 0, 0, 0, 0.0003, 0.0015, 0.0045, 0.0085];
const inset025Gray = [0, 0, 0, 0, 0, 0, 0, 0.0005, 0.002, 0.005, 0.01];
const inset025Blue = [0, 0, 0, 0, 0, 0, 0, 0, 0, 0, 0.0002];

const inset030Energy = [1.25, 1.3, 1.35, 1.4, 1.45, 1.5, 1.55, 1.6, 1.65, 1.7, 1.75];
const inset030Ticks = [1.25, 1.5, 1.75];
const inset030Orange = [0, 0, 0, 0, 0, 0, 0, 0.0003, 0.002, 0.006, 0.014];
const inset030Maroon = [0, 0, 0, 0, 0, 0, 0, 0.0001, 0.001, 0.004, 0.01];
const inset030Black = [0, 0, 0, 0, 0, 0, 0, 0, 0.0005, 0.0025, 0.007];
const inset030Gray = [0, 0, 0, 0, 0, 0, 0, 0, 0.0008, 0.003, 0.008];
const inset030Blue = [0, 0, 0, 0, 0, 0, 0, 0, 0, 0, 0];

const inset0375Energy = [1.75, 1.775, 1.8, 1.825, 1.85, 1.875, 1.9, 1.925, 1.95, 1.975, 2, 2.025, 2.05, 2.075, 2.1, 2.125, 2.15, 2.175, 2.2, 2.225, 2.25];
const inset0375Ticks = [1.75, 2, 2.25];
const inset0375Orange = [0, 0, 0, 0, 0, 0, 0, 0.0003, 0.001, 0.002, 0.0045, 0.007, 0.011, 0.016, 0.022, 0.026, 0.031, 0.058, 0.09, 0.12, 0.15];
const inset0375Maroon = [0, 0, 0, 0, 0, 0, 0, 0, 0.0003, 0.001, 0.002, 0.004, 0.007, 0.011, 0.016, 0.021, 0.027, 0.042, 0.075, 0.1, 0.13];
const inset0375Black = [0, 0, 0, 0, 0, 0, 0, 0, 0, 0.0003, 0.001, 0.0025, 0.004, 0.0065, 0.009, 0.011, 0.013, 0.017, 0.024, 0.045, 0.08];
const inset0375Gray = [0, 0, 0, 0, 0, 0, 0, 0, 0, 0.0004, 0.0012, 0.0028, 0.0045, 0.007, 0.0095, 0.0115, 0.0135, 0.0175, 0.025, 0.046, 0.08];
const inset0375Blue = [0, 0, 0, 0, 0, 0, 0, 0, 0, 0, 0, 0, 0, 0, 0, 0, 0, 0, 0.0003, 0.0006, 0.001];
const insetTicksY = [0, 0.025, 0.05];

// ---------------- styling ----------------
const COLORS = {
  cyan: "#25b3b8",
  mid: "#2c4a4b",
  gap: "#203638",
  magenta: "#c41ec6",
  deep: "#141818",
  upper: "#1a1f1f",
  arrow: "#d3261c",
  gray: "#d6d6d6",
  blue: "#1818ec",
  maroon: "#5a1346",
  black: "#000000",
  orange: "#f5a11c",
};

type Rect = { x0: number; x1: number; y0: number; y1: number };
type Curve = "monotone" | "natural";
type BandGroup = { bands: number[][]; stroke: string; width: number; opacity: number; curve: Curve };

const bandRect025: Rect = { x0: 99, x1: 456, y0: 47, y1: 405 };
const bandRect030: Rect = { x0: 496, x1: 851, y0: 47, y1: 405 };
const bandRect0375: Rect = { x0: 881, x1: 1238, y0: 47, y1: 405 };
const dosRect025: Rect = { x0: 122, x1: 427, y0: 472, y1: 673 };
const dosRect030: Rect = { x0: 525, x1: 831, y0: 472, y1: 673 };
const dosRect0375: Rect = { x0: 928, x1: 1232, y0: 472, y1: 673 };
const insetRect025: Rect = { x0: 285, x1: 406, y0: 492, y1: 592 };
const insetRect030: Rect = { x0: 687, x1: 810, y0: 492, y1: 592 };
const insetRect0375: Rect = { x0: 1092, x1: 1213, y0: 492, y1: 592 };

// axis band sizes: the plot rectangle is kept at `rect`
const marginOf = (r: Rect, yAxisW: number, xAxisH: number) => ({
  left: r.x0 - yAxisW,
  top: r.y0,
  right: PAGE_W - r.x1,
  bottom: PAGE_H - r.y1 - xAxisH,
});

const layerStyle: React.CSSProperties = { position: "absolute", left: 0, top: 0, width: PAGE_W, height: PAGE_H };

function bandRows(bands: number[][]) {
  const rows: Record<string, number>[] = [];
  kPath.forEach((k, i) => {
    const row: Record<string, number> = { k };
    bands.forEach((b, j) => {
      row["b" + j] = b[i];
    });
    rows.push(row);
    if (i === BREAK_AFTER) rows.push({ k });
  });
  return rows;
}

const makeKTick = (rect: Rect) => (props: any) => {
  const { x, payload } = props;
  const i = kTicks.indexOf(payload.value);
  if (i < 0) return <g />;
  const lx = x + kLabelShift[i];
  const label = kLabels[i];
  const common = { fontFamily: FONT, fill: "#111", textAnchor: "middle" as const };
  if (label === "Y/Z") {
    return (
      <g>
        <text x={lx} y={rect.y1 + 16} fontSize={13} {...common}>Y</text>
        <text x={lx} y={rect.y1 + 29} fontSize={13} {...common}>Z</text>
      </g>
    );
  }
  if (label.length === 2) {
    return (
      <text x={lx} y={rect.y1 + 30} fontSize={29} {...common}>
        {label[0]}
        <tspan fontSize={15} dy={6}>{label[1]}</tspan>
      </text>
    );
  }
  return (
    <text x={lx} y={rect.y1 + 30} fontSize={29} {...common}>
      {label}
    </text>
  );
};

const makeEnergyTick = (rect: Rect) => (props: any) => {
  const { y, payload } = props;
  const v = String(payload.value);
  return (
    <text x={rect.x0 - 12} y={y + (energyTickShift[v] || 0)} textAnchor="end" dominantBaseline="central" fontSize={31} fontFamily={FONT} fill="#111">
      {v}
    </text>
  );
};

const ArrowUp = (p: any) => (
  <polygon points={`${p.cx},${p.cy} ${p.cx - 8},${p.cy + 14} ${p.cx + 8},${p.cy + 14}`} fill={COLORS.arrow} />
);
const ArrowDown = (p: any) => (
  <polygon points={`${p.cx},${p.cy} ${p.cx - 8},${p.cy - 14} ${p.cx + 8},${p.cy - 14}`} fill={COLORS.arrow} />
);

function BandPanel({ rect, groups, gap, dash, labelled }: { rect: Rect; groups: BandGroup[]; gap: number[][]; dash: string; labelled: boolean }) {
  const rows = bandRows(groups.flatMap((g) => g.bands));
  const zk = kPath[Z_INDEX];
  const cbm = Math.min(...gap.map((b) => b[Z_INDEX]));
  const tipTop = cbm - 0.1;
  const tipBottom = 0.08;
  let n = 0;
  const lines = groups.flatMap((g) =>
    g.bands.map(() => {
      const key = "b" + n++;
      return (
        <Line
          key={key}
          dataKey={key}
          type={g.curve}
          stroke={g.stroke}
          strokeWidth={g.width}
          strokeOpacity={g.opacity}
          dot={false}
          activeDot={false}
          isAnimationActive={false}
        />
      );
    })
  );
  return (
    <div style={layerStyle}>
      <LineChart width={PAGE_W} height={PAGE_H} data={rows} margin={marginOf(rect, 60, 40)}>
        <XAxis dataKey="k" type="number" domain={[0, 1]} ticks={kTicks} interval={0} height={40} axisLine={false} tickLine={false} tick={makeKTick(rect)} allowDataOverflow />
        <YAxis type="number" domain={[-3, 6]} ticks={energyTicks} interval={0} width={60} axisLine={false} tickLine={false} tick={labelled ? makeEnergyTick(rect) : false} allowDataOverflow />
        {lines}
        {kTicks.slice(1, -1).map((k, i) => (
          <ReferenceLine key={"v" + i} x={k} stroke="#3a3a3a" strokeWidth={1.3} strokeDasharray="4 4" />
        ))}
        <ReferenceLine y={0} stroke="#3a3a3a" strokeWidth={1.3} strokeDasharray="4 4" />
        <ReferenceLine segment={[{ x: zk, y: tipBottom + 0.2 }, { x: zk, y: tipTop - 0.2 }]} stroke={COLORS.arrow} strokeWidth={3.5} strokeDasharray={dash} />
        <ReferenceDot x={zk} y={tipTop} r={0} shape={ArrowUp} />
        <ReferenceDot x={zk} y={tipBottom} r={0} shape={ArrowDown} />
        <ReferenceArea x1={0} x2={1} y1={-3} y2={6} fill="none" stroke="#4a4a4a" strokeWidth={1.5} />
      </LineChart>
    </div>
  );
}

type DosSeries = { energy: number[]; gray: number[]; blue: number[]; maroon: number[]; black: number[]; orange: number[] };

function dosRows(s: DosSeries) {
  return s.energy.map((e, i) => ({ e, gray: s.gray[i], blue: s.blue[i], maroon: s.maroon[i], black: s.black[i], orange: s.orange[i] }));
}

function dosSeries(width: number) {
  return [
    <Area key="gray" dataKey="gray" type="linear" stroke="none" fill={COLORS.gray} fillOpacity={1} dot={false} activeDot={false} isAnimationActive={false} />,
    <Line key="blue" dataKey="blue" type="linear" stroke={COLORS.blue} strokeWidth={width - 0.3} strokeLinejoin="round" dot={false} activeDot={false} isAnimationActive={false} />,
    <Line key="maroon" dataKey="maroon" type="linear" stroke={COLORS.maroon} strokeWidth={width} strokeLinejoin="round" dot={false} activeDot={false} isAnimationActive={false} />,
    <Line key="black" dataKey="black" type="linear" stroke={COLORS.black} strokeWidth={width} strokeLinejoin="round" dot={false} activeDot={false} isAnimationActive={false} />,
    <Line key="orange" dataKey="orange" type="linear" stroke={COLORS.orange} strokeWidth={width} strokeLinejoin="round" dot={false} activeDot={false} isAnimationActive={false} />,
  ];
}

const makeDosXTick = (rect: Rect) => (props: any) => {
  const { x, payload } = props;
  return (
    <g>
      <line x1={x} x2={x} y1={rect.y1} y2={rect.y1 - 7} stroke="#000" strokeWidth={1.6} />
      <line x1={x} x2={x} y1={rect.y0} y2={rect.y0 + 7} stroke="#000" strokeWidth={1.6} />
      <text x={x} y={rect.y1 + 34} textAnchor="middle" fontSize={26} fontFamily={FONT} fill="#111">
        {payload.value}
      </text>
    </g>
  );
};

const makeDosYTick = (rect: Rect) => (props: any) => {
  const { y, payload } = props;
  const v = payload.value as number;
  return (
    <g>
      <line x1={rect.x0} x2={rect.x0 + 7} y1={y} y2={y} stroke="#000" strokeWidth={1.6} />
      <line x1={rect.x1} x2={rect.x1 - 7} y1={y} y2={y} stroke="#000" strokeWidth={1.6} />
      {v % 5 === 0 ? (
        <text x={rect.x0 - 7} y={y} textAnchor="end" dominantBaseline="central" fontSize={26} fontFamily={FONT} fill="#111">
          {v}
        </text>
      ) : null}
    </g>
  );
};

function DosPanel({ rect, series }: { rect: Rect; series: DosSeries }) {
  return (
    <div style={layerStyle}>
      <ComposedChart width={PAGE_W} height={PAGE_H} data={dosRows(series)} margin={marginOf(rect, 40, 40)}>
        <XAxis dataKey="e" type="number" domain={[-3, 6]} ticks={dosTicksX} interval={0} height={40} axisLine={false} tickLine={false} tick={makeDosXTick(rect)} allowDataOverflow />
        <YAxis type="number" domain={[0, 20]} ticks={dosTicksY} interval={0} width={40} axisLine={false} tickLine={false} tick={makeDosYTick(rect)} allowDataOverflow />
        {dosSeries(4)}
        <ReferenceArea x1={-3} x2={6} y1={0} y2={20} fill="none" stroke="#000" strokeWidth={2} />
      </ComposedChart>
    </div>
  );
}

const makeInsetXTick = (rect: Rect, ticks: number[]) => (props: any) => {
  const { x, payload } = props;
  const inner = payload.value === ticks[1];
  return (
    <g>
      {inner ? <line x1={x} x2={x} y1={rect.y1} y2={rect.y1 - 6} stroke="#000" strokeWidth={1.6} /> : null}
      {inner ? <line x1={x} x2={x} y1={rect.y0} y2={rect.y0 + 6} stroke="#000" strokeWidth={1.6} /> : null}
      <text x={x} y={rect.y1 + 25} textAnchor="middle" fontSize={19} fontFamily={FONT} fill="#111">
        {payload.value}
      </text>
    </g>
  );
};

const makeInsetYTick = (rect: Rect) => (props: any) => {
  const { y, payload } = props;
  const inner = payload.value === insetTicksY[1];
  return (
    <g>
      {inner ? <line x1={rect.x0} x2={rect.x0 + 6} y1={y} y2={y} stroke="#000" strokeWidth={1.6} /> : null}
      {inner ? <line x1={rect.x1} x2={rect.x1 - 6} y1={y} y2={y} stroke="#000" strokeWidth={1.6} /> : null}
      <text x={rect.x0 - 5} y={y} textAnchor="end" dominantBaseline="central" fontSize={19} fontFamily={FONT} fill="#111">
        {payload.value}
      </text>
    </g>
  );
};

function InsetPanel({ rect, series, ticks }: { rect: Rect; series: DosSeries; ticks: number[] }) {
  const lo = ticks[0];
  const hi = ticks[ticks.length - 1];
  return (
    <>
      <div style={{ position: "absolute", left: rect.x0, top: rect.y0, width: rect.x1 - rect.x0, height: rect.y1 - rect.y0, background: "#fff" }} />
      <div style={layerStyle}>
        <ComposedChart width={PAGE_W} height={PAGE_H} data={dosRows(series)} margin={marginOf(rect, 50, 30)}>
          <XAxis dataKey="e" type="number" domain={[lo, hi]} ticks={ticks} interval={0} height={30} axisLine={false} tickLine={false} tick={makeInsetXTick(rect, ticks)} allowDataOverflow />
          <YAxis type="number" domain={[0, 0.05]} ticks={insetTicksY} interval={0} width={50} axisLine={false} tickLine={false} tick={makeInsetYTick(rect)} allowDataOverflow />
          {dosSeries(4)}
          <ReferenceArea x1={lo} x2={hi} y1={0} y2={0.05} fill="none" stroke="#000" strokeWidth={2} />
        </ComposedChart>
      </div>
    </>
  );
}

const bandStyle = {
  cyan: { stroke: COLORS.cyan, width: 1.8, opacity: 0.95, curve: "natural" as Curve },
  mid: { stroke: COLORS.mid, width: 1.8, opacity: 0.8, curve: "monotone" as Curve },
  gap: { stroke: COLORS.gap, width: 2, opacity: 0.9, curve: "monotone" as Curve },
  magenta: { stroke: COLORS.magenta, width: 3.1, opacity: 0.95, curve: "monotone" as Curve },
  deep: { stroke: COLORS.deep, width: 1.8, opacity: 0.82, curve: "natural" as Curve },
  upper: { stroke: COLORS.upper, width: 1.8, opacity: 0.8, curve: "monotone" as Curve },
};

const groups025: BandGroup[] = [
  { bands: deep025, ...bandStyle.deep },
  { bands: magenta025, ...bandStyle.magenta },
  { bands: cyan025, ...bandStyle.cyan },
  { bands: mid025, ...bandStyle.mid },
  { bands: gap025, ...bandStyle.gap },
];
const groups030: BandGroup[] = [
  { bands: deep030, ...bandStyle.deep },
  { bands: magenta030, ...bandStyle.magenta },
  { bands: upper030, ...bandStyle.upper },
  { bands: cyan030, ...bandStyle.cyan },
  { bands: mid030, ...bandStyle.mid },
  { bands: gap030, ...bandStyle.gap },
];
const groups0375: BandGroup[] = [
  { bands: deep0375, ...bandStyle.deep },
  { bands: magenta0375, ...bandStyle.magenta },
  { bands: upper0375, ...bandStyle.upper },
  { bands: cyan0375, ...bandStyle.cyan },
  { bands: mid0375, ...bandStyle.mid },
  { bands: gap0375, ...bandStyle.gap },
];

const dos025: DosSeries = { energy: dosEnergy, gray: dosGray025, blue: dosBlue025, maroon: dosMaroon025, black: dosBlack025, orange: dosOrange025 };
const dos030: DosSeries = { energy: dosEnergy, gray: dosGray030, blue: dosBlue030, maroon: dosMaroon030, black: dosBlack030, orange: dosOrange030 };
const dos0375: DosSeries = { energy: dosEnergy, gray: dosGray0375, blue: dosBlue0375, maroon: dosMaroon0375, black: dosBlack0375, orange: dosOrange0375 };
const inset025: DosSeries = { energy: inset025Energy, gray: inset025Gray, blue: inset025Blue, maroon: inset025Maroon, black: inset025Black, orange: inset025Orange };
const inset030: DosSeries = { energy: inset030Energy, gray: inset030Gray, blue: inset030Blue, maroon: inset030Maroon, black: inset030Black, orange: inset030Orange };
const inset0375: DosSeries = { energy: inset0375Energy, gray: inset0375Gray, blue: inset0375Blue, maroon: inset0375Maroon, black: inset0375Black, orange: inset0375Orange };

const titles = [
  { text: "α = 0.25", x: 295 },
  { text: "α = 0.3", x: 669 },
  { text: "α = 0.375", x: 1066 },
];

export default function App() {
  return (
    <div style={{ position: "absolute", left: 0, top: 0, width: PAGE_W, height: PAGE_H, background: "#fff", overflow: "hidden" }}>
      <BandPanel rect={bandRect025} groups={groups025} gap={gap025} dash="9 5" labelled />
      <BandPanel rect={bandRect030} groups={groups030} gap={gap030} dash="0" labelled={false} />
      <BandPanel rect={bandRect0375} groups={groups0375} gap={gap0375} dash="9 5" labelled={false} />
      <DosPanel rect={dosRect025} series={dos025} />
      <DosPanel rect={dosRect030} series={dos030} />
      <DosPanel rect={dosRect0375} series={dos0375} />
      <InsetPanel rect={insetRect025} series={inset025} ticks={inset025Ticks} />
      <InsetPanel rect={insetRect030} series={inset030} ticks={inset030Ticks} />
      <InsetPanel rect={insetRect0375} series={inset0375} ticks={inset0375Ticks} />
      <svg width={PAGE_W} height={PAGE_H} style={{ ...layerStyle, pointerEvents: "none" }}>
        {titles.map((t) => (
          <text key={t.text} x={t.x} y={25} textAnchor="middle" fontSize={26} fontFamily={FONT} fill="#111">
            {t.text}
          </text>
        ))}
        <text transform="translate(29,238) rotate(-90)" textAnchor="middle" dominantBaseline="central" fontSize={28} fontFamily={FONT} fill="#111">
          Energy (eV)
        </text>
        <text transform="translate(27,569) rotate(-90)" textAnchor="middle" dominantBaseline="central" fontSize={25} fontFamily={FONT} fill="#111">
          DOS ((eV•Ω
          <tspan fontSize={16} dy={6}>unit cell</tspan>
          <tspan dy={-6}>)</tspan>
          <tspan fontSize={16} dy={-10}>-1</tspan>
          <tspan dy={10}>)</tspan>
        </text>
        <text x={685} y={737} textAnchor="middle" fontSize={28} fontFamily={FONT} fill="#111">
          Energy (eV)
        </text>
      </svg>
    </div>
  );
}
